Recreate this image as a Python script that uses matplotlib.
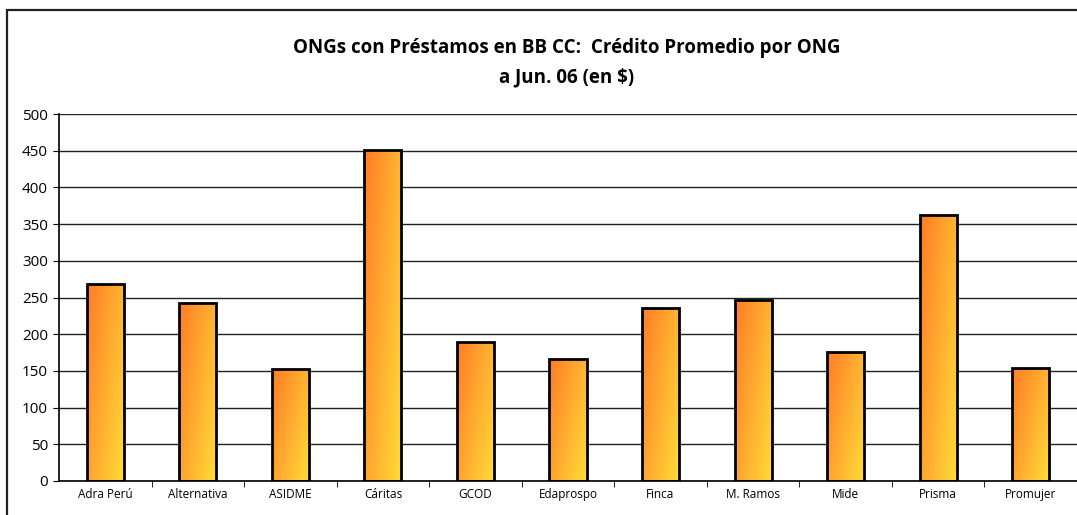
import numpy as np
import matplotlib
matplotlib.use('Agg')
import matplotlib.pyplot as plt
from matplotlib.colors import LinearSegmentedColormap
from matplotlib.patches import Rectangle

categories = ['Adra Perú', 'Alternativa', 'ASIDME', 'Cáritas', 'GCOD', 'Edaprospo',
              'Finca', 'M. Ramos', 'Mide', 'Prisma', 'Promujer']
values = [268, 243, 152, 451, 189, 166, 236, 246, 176, 363, 154]
yticks = list(range(0, 501, 50))

plt.rcParams['font.family'] = ['Open Sans', 'DejaVu Sans']

W, H = 1077, 515
fig = plt.figure(figsize=(W / 100, H / 100), dpi=100)
# outer frame (right/bottom edges fall outside the picture)
fig.patches.append(Rectangle((7 / W, -0.1), 1.2, 1 - 10 / H + 0.1, transform=fig.transFigure,
                             fill=False, edgecolor='#222222', lw=1.6))

ax = fig.add_axes([59 / W, 34 / H, (1077 - 59) / W, (481 - 114) / H])
x = np.arange(len(categories))
bars = ax.bar(x, values, width=0.4, facecolor='none', edgecolor='black', lw=2, zorder=3)

cmap = LinearSegmentedColormap.from_list('og', ['#ff7d26', '#ffac30', '#ffdc38'])
# diagonal gradient: orange top-left -> yellow bottom-right (row 0 = top)
grad = np.add.outer(np.linspace(0, 0.7, 60), np.linspace(0, 1, 30))
for b in bars:
    x0, y0 = b.get_x(), b.get_y()
    w, h = b.get_width(), b.get_height()
    im = ax.imshow(grad, cmap=cmap, extent=[x0, x0 + w, y0, y0 + h], aspect='auto',
                   origin='upper', zorder=2, vmin=0, vmax=1.7)
    im.set_clip_path(b)

ax.set_xlim(-0.5, len(categories) - 0.5)
ax.set_ylim(0, 500)
ax.set_yticks(yticks)
ax.tick_params(axis='y', labelsize=11, length=4, direction='out', pad=4)
ax.set_xticks(x)
ax.set_xticklabels(categories, fontsize=8.5)
ax.tick_params(axis='x', length=0, pad=5)
ax.set_xticks(np.arange(0.5, len(categories) - 0.5, 1), minor=True)
ax.tick_params(axis='x', which='minor', length=4, direction='out')
ax.grid(axis='y', color='#222222', lw=1, zorder=1)
ax.set_axisbelow(True)
for s in ['top', 'right']:
    ax.spines[s].set_visible(False)
ax.spines['left'].set_linewidth(1.2)
ax.spines['bottom'].set_linewidth(1.2)

fig.text(567 / W, 1 - 48 / H, 'ONGs con Préstamos en BB CC:  Crédito Promedio por ONG',
         ha='center', va='center', fontsize=13.5, fontweight='bold')
fig.text(567 / W, 1 - 77 / H, 'a Jun. 06 (en $)', ha='center', va='center',
         fontsize=13.5, fontweight='bold')

fig.savefig('out.png', dpi=100)
